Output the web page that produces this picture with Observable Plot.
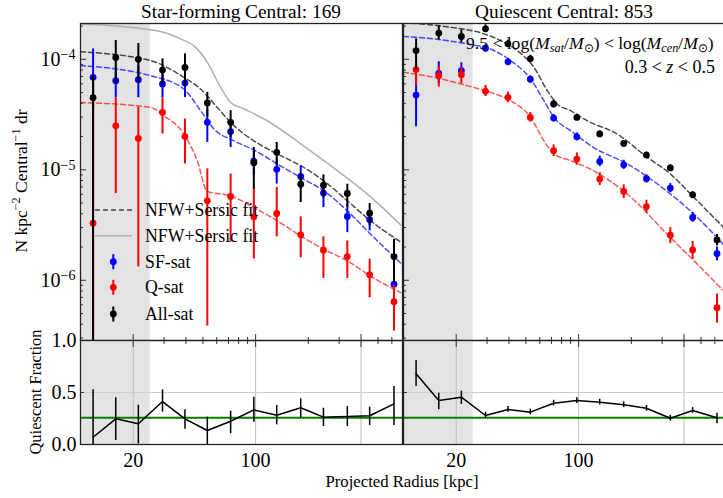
<!DOCTYPE html>
<html>
<head>
<meta charset="utf-8">
<script src="https://cdn.jsdelivr.net/npm/d3@7"></script>
<script src="https://cdn.jsdelivr.net/npm/@observablehq/plot@0.6"></script>
<style>
  html, body { margin: 0; padding: 0; background: #fff; }
  #fig { position: relative; width: 723px; height: 498px; overflow: hidden; background: #fff;
         font-family: "Liberation Serif", serif; color: #000; }
  #fig svg, #fig svg text { font-family: "Liberation Serif", serif !important; }
  .panel { position: absolute; }
  .lbl { position: absolute; white-space: nowrap; line-height: 1; }
  .lbl sub { font-size: 0.7em; line-height: 0; vertical-align: -0.25em; }
  .lbl sup { font-size: 0.7em; line-height: 0; }
</style>
</head>
<body>
<div id="fig"></div>
<script>
// ---- radial bins (kpc) and axis settings ----
const radius = [11.8, 15.9, 21.4, 29.4, 39.5, 53.0, 72.0, 97.7, 132, 181, 244, 334, 448, 617];
const innerLimit = [10, 25];            // shaded inner region
const xDomain = [10, 690];
const yDomain = [2.85e-7, 2.11e-4];
const xMajorTicks = [20, 100, 400];
const xMinorTicks = [30, 40, 50, 60, 70, 80, 90, 200, 300, 500, 600];
const yMajorTicks = [1e-6, 1e-5, 1e-4];
const yMinorTicks = [3e-7, 4e-7, 5e-7, 6e-7, 7e-7, 8e-7, 9e-7, 2e-6, 3e-6, 4e-6, 5e-6, 6e-6, 7e-6, 8e-6, 9e-6,
                     2e-5, 3e-5, 4e-5, 5e-5, 6e-5, 7e-5, 8e-5, 9e-5, 2e-4];
const fracTicks = [0, 0.5, 1];

// ---- star-forming centrals (N = 169) ----
const sfAll   = [4.5e-5, 1.04e-4, 1.0e-4, 8.0e-5, 8.45e-5, 4.03e-5, 2.69e-5, 1.16e-5, 1.44e-5, 7.4e-6, 7.26e-6, 6.1e-6, 4.05e-6, 1.64e-6];
const sfAllLo = [1e-8, 6.0e-5, 6.1e-5, 5.9e-5, 5.7e-5, 3.0e-5, 1.95e-5, 6.7e-6, 1.1e-5, 5.05e-6, 5.6e-6, 4.6e-6, 3.1e-6, 9.5e-7];
const sfAllHi = [7.1e-5, 1.48e-4, 1.39e-4, 1.01e-4, 1.12e-4, 5.02e-5, 3.43e-5, 1.59e-5, 1.77e-5, 9.2e-6, 9.0e-6, 7.4e-6, 4.95e-6, 2.35e-6];
const sfSF    = [6.87e-5, 6.41e-5, 6.55e-5, 5.98e-5, 6.1e-5, 2.69e-5, 2.22e-5, 1.2e-5, 1.01e-5, 8.7e-6, 6.15e-6, 3.78e-6, 3.53e-6, 9.2e-7];
const sfSFLo  = [3.5e-5, 4.47e-5, 4.5e-5, 4.47e-5, 4.5e-5, 1.77e-5, 1.59e-5, 9.0e-6, 7.42e-6, 6.7e-6, 4.55e-6, 2.7e-6, 2.8e-6, 6.0e-7];
const sfSFHi  = [1.24e-4, 8.5e-5, 8.7e-5, 7.5e-5, 7.6e-5, 3.5e-5, 2.8e-5, 1.5e-5, 1.25e-5, 1.087e-5, 7.5e-6, 4.9e-6, 4.05e-6, 1.3e-6];
const sfQ     = [3.29e-6, 2.5e-5, 1.92e-5, 3.3e-5, 2.0e-5, 5.24e-6, 5.73e-6, 3.75e-6, 4.02e-6, 2.58e-6, 1.87e-6, 1.64e-6, 1.12e-6, 6.4e-7];
const sfQLo   = [1e-8, 6.1e-6, 1.32e-6, 2.11e-5, 1.13e-5, 3.85e-7, 2.22e-6, 1.56e-6, 2.47e-6, 1.6e-6, 1.04e-6, 1.04e-6, 6.95e-7, 3.47e-7];
const sfQHi   = [6.0e-5, 4.47e-5, 3.7e-5, 4.47e-5, 2.88e-5, 1.02e-5, 9.14e-6, 6.9e-6, 6.92e-6, 3.75e-6, 2.47e-6, 2.27e-6, 1.55e-6, 9.0e-7];
const sfFrac   = [0.07, 0.247, 0.199, 0.413, 0.247, 0.135, 0.224, 0.333, 0.282, 0.353, 0.263, 0.269, 0.276, 0.391];
const sfFracLo = [0, 0.038, 0.006, 0.311, 0.147, 0, 0.103, 0.215, 0.189, 0.257, 0.173, 0.173, 0.183, 0.183];
const sfFracHi = [0.526, 0.449, 0.378, 0.526, 0.333, 0.263, 0.32, 0.455, 0.375, 0.439, 0.349, 0.365, 0.359, 0.558];
const sfMeanFrac = 0.257;
// NFW+Sersic fits, [radius, density]
const sfFitAll = [[10,1.17e-4],[25.1,9.73e-5],[38.9,6.87e-5],[48.5,5.39e-5],[60.4,3.67e-5],[75.2,2.51e-5],[97.8,1.83e-5],[133,1.39e-5],[181,1.09e-5],[245,7.95e-6],[334,5.24e-6],[454,3.45e-6],[674,2.22e-6]];
const sfFitSF  = [[10,8.77e-5],[25.1,7.11e-5],[38.9,5.39e-5],[48.5,3.43e-5],[57.8,2.34e-5],[75.2,1.83e-5],[97.8,1.51e-5],[133,1.13e-5],[181,8.51e-6],[245,6.45e-6],[334,4.25e-6],[454,2.61e-6],[674,1.43e-6]];
const sfFitQ   = [[10,4.07e-5],[25.1,3.67e-5],[29.9,3.09e-5],[38.9,2.11e-5],[46.4,1.21e-5],[53,6.36e-6],[72,5.81e-6],[97.8,4.55e-6],[133,3.45e-6],[181,2.52e-6],[245,1.91e-6],[334,1.5e-6],[454,1.09e-6],[674,7.72e-7]];
const sfFitTotal = [[10,2.09e-4],[25.1,1.85e-4],[29.8,1.76e-4],[37.3,1.53e-4],[44.3,1.33e-4],[53,9.4e-5],[63.1,5.57e-5],[72,4.07e-5],[85.3,3.57e-5],[116.6,2.78e-5],[181,1.72e-5],[268,1.09e-5],[454,5.69e-6],[674,3.17e-6]];

// ---- quiescent centrals (N = 853) ----
const qAll   = [1.2e-4, 1.73e-4, 1.61e-4, 1.89e-4, 1.38e-4, 1.01e-4, 3.94e-5, 2.98e-5, 2.11e-5, 1.73e-5, 1.36e-5, 1.04e-5, 5.93e-6, 2.32e-6];
const qAllLo = [8.0e-5, 1.5e-4, 1.42e-4, 1.75e-4, 1.28e-4, 9.4e-5, 3.65e-5, 2.8e-5, 1.97e-5, 1.62e-5, 1.28e-5, 9.8e-6, 5.5e-6, 2.05e-6];
const qAllHi = [1.53e-4, 2.0e-4, 1.84e-4, 2.05e-4, 1.49e-4, 1.09e-4, 4.25e-5, 3.18e-5, 2.26e-5, 1.84e-5, 1.45e-5, 1.11e-5, 6.35e-6, 2.6e-6];
const qSF    = [4.75e-5, 7.46e-5, 7.9e-5, 1.26e-4, 9.5e-5, 6.6e-5, 2.94e-5, 1.99e-5, 1.19e-5, 1.11e-5, 8.3e-6, 6.83e-6, 3.7e-6, 1.74e-6];
const qSFLo  = [2.45e-5, 6.0e-5, 6.7e-5, 1.17e-4, 8.8e-5, 6.1e-5, 2.72e-5, 1.83e-5, 1.07e-5, 1.01e-5, 7.6e-6, 6.2e-6, 3.35e-6, 1.5e-6];
const qSFHi  = [7.0e-5, 9.5e-5, 9.3e-5, 1.36e-4, 1.02e-4, 7.1e-5, 3.17e-5, 2.16e-5, 1.33e-5, 1.22e-5, 9.0e-6, 7.5e-6, 4.1e-6, 2.0e-6];
const qQ     = [8.07e-5, 7.1e-5, 7.26e-5, 5.13e-5, 4.52e-5, 2.98e-5, 1.49e-5, 1.25e-5, 8.24e-6, 6.36e-6, 4.65e-6, 2.56e-6, 1.88e-6, 5.65e-7];
const qQLo   = [5.8e-5, 5.6e-5, 6.0e-5, 4.6e-5, 4.05e-5, 2.7e-5, 1.32e-5, 1.1e-5, 7.2e-6, 5.5e-6, 4.05e-6, 2.15e-6, 1.55e-6, 4.1e-7];
const qQHi   = [9.0e-5, 8.6e-5, 8.5e-5, 5.8e-5, 5.05e-5, 3.3e-5, 1.68e-5, 1.42e-5, 9.4e-6, 7.3e-6, 5.3e-6, 3.0e-6, 2.25e-6, 7.5e-7];
const qFrac   = [0.68, 0.423, 0.455, 0.279, 0.337, 0.311, 0.397, 0.423, 0.407, 0.382, 0.349, 0.253, 0.327, 0.257];
const qFracLo = [0.558, 0.333, 0.385, 0.25, 0.31, 0.285, 0.37, 0.395, 0.38, 0.355, 0.32, 0.225, 0.3, 0.2];
const qFracHi = [0.808, 0.493, 0.513, 0.31, 0.365, 0.34, 0.425, 0.45, 0.435, 0.41, 0.375, 0.28, 0.355, 0.30];
const qMeanFrac = 0.257;
const qFitAll = [[10,2.15e-4],[18.6,1.95e-4],[28.8,1.7e-4],[35.8,1.48e-4],[44.6,1.2e-4],[55.6,8.46e-5],[66.3,5.2e-5],[75.5,3.94e-5],[90,3.43e-5],[112,2.78e-5],[166,2.11e-5],[245,1.31e-5],[335,9.14e-6],[456,5.61e-6],[674,3.0e-6]];
const qFitSF  = [[10,1.61e-4],[14.9,1.53e-4],[23.1,1.38e-4],[31.4,1.24e-4],[40.9,9.73e-5],[53.2,6.64e-5],[63.4,4.22e-5],[72.3,2.98e-5],[90,2.26e-5],[122,1.59e-5],[190,1.13e-5],[335,6.02e-6],[456,3.97e-6],[674,2.09e-6]];
const qFitQ   = [[10,7.62e-5],[14.9,6.87e-5],[23.1,5.78e-5],[31.4,5.02e-5],[40.9,4.22e-5],[53.2,2.98e-5],[63.4,1.83e-5],[72.3,1.39e-5],[90,1.21e-5],[122,9.79e-6],[190,6.02e-6],[335,2.43e-6],[456,1.5e-6],[674,8.0e-7]];

// ---- colours ----
const BLUE = "#0000ff", RED = "#ff0000", BLACK = "#000000", SHADE = "#e3e3e3";

const rows = (v, lo, hi) => radius.map((r, i) => ({r, v: v[i], lo: lo[i], hi: hi[i]}));
const blank = () => "";
const baseStyle = {background: "none", overflow: "visible", fontFamily: "'Liberation Serif', serif", fontSize: "20px", color: "#000"};

function series(data, color) {
  return [
    Plot.ruleX(data, {x: "r", y1: "lo", y2: "hi", stroke: color, strokeWidth: 2, clip: true}),
    Plot.dot(data, {x: "r", y: "v", r: 3.4, fill: color, clip: true})
  ];
}
function fitLine(pts, color, opacity) {
  return Plot.line(pts, {x: d => d[0], y: d => d[1], stroke: color, strokeOpacity: opacity,
    strokeWidth: 1.5, strokeDasharray: "5,3", curve: "monotone-x", clip: true});
}

function densityPanel({all, sf, q, fits, labels, width, marginLeft, marginRight}) {
  return Plot.plot({
    width, height: 340, marginLeft, marginRight, marginTop: 23, marginBottom: 0,
    style: baseStyle,
    x: {type: "log", domain: xDomain},
    y: {type: "log", domain: yDomain},
    marks: [
      Plot.rect([innerLimit], {x1: d => d[0], x2: d => d[1], fill: SHADE}),
      fits.total ? Plot.line(fits.total, {x: d => d[0], y: d => d[1], stroke: "#b0b0b0", strokeWidth: 1.5, curve: "monotone-x", clip: true}) : null,
      fitLine(fits.all, BLACK, 0.7),
      fitLine(fits.sf, BLUE, 0.7),
      fitLine(fits.q, RED, 0.65),
      ...series(sf, BLUE),
      ...series(q, RED),
      ...series(all, BLACK),
      Plot.axisY(yMinorTicks, {tickSize: -3, tickFormat: blank, label: null, stroke: "#333"}),
      Plot.axisY(yMajorTicks, {tickSize: -6, tickFormat: blank, label: null, stroke: "#333"}),
      labels ? Plot.axisY(yMajorTicks, {tickSize: 0, tickPadding: 5, tickFormat: d => `10^${Math.round(Math.log10(d))}`, label: null}) : null,
      Plot.axisX(xMinorTicks, {anchor: "bottom", tickSize: -3, tickFormat: blank, label: null, stroke: "#333"}),
      Plot.axisX(xMajorTicks, {anchor: "bottom", tickSize: -6, tickFormat: blank, label: null, stroke: "#333"}),
      Plot.frame({stroke: "#222", strokeWidth: 1.3})
    ]
  });
}

function fractionPanel({frac, mean, labels, width, marginLeft, marginRight}) {
  return Plot.plot({
    width, height: 158, marginLeft, marginRight, marginTop: 0, marginBottom: 54,
    style: baseStyle,
    x: {type: "log", domain: xDomain},
    y: {domain: [0, 1]},
    marks: [
      Plot.rect([innerLimit], {x1: d => d[0], x2: d => d[1], fill: SHADE}),
      Plot.gridX(xMajorTicks, {stroke: "#bdbdbd", strokeOpacity: 1, strokeWidth: 1}),
      Plot.gridY([0.5], {stroke: "#cfcfcf", strokeOpacity: 1, strokeWidth: 1}),
      Plot.ruleY([mean], {stroke: "#008000", strokeWidth: 2}),
      Plot.line(frac, {x: "r", y: "v", stroke: BLACK, strokeWidth: 1.5}),
      Plot.ruleX(frac, {x: "r", y1: "lo", y2: "hi", stroke: BLACK, strokeWidth: 1.5, clip: true}),
      Plot.axisY(fracTicks, {tickSize: -4, tickFormat: blank, label: null, stroke: "#333"}),
      labels ? Plot.axisY(fracTicks, {tickSize: 0, tickPadding: 4, tickFormat: d3.format(".1f"), label: null}) : null,
      Plot.axisX(xMinorTicks, {anchor: "top", tickSize: -3, tickFormat: blank, label: null, stroke: "#333"}),
      Plot.axisX(xMajorTicks, {anchor: "top", tickSize: -6, tickFormat: blank, label: null, stroke: "#333"}),
      Plot.axisX(xMajorTicks, {anchor: "bottom", tickSize: 0, tickPadding: 8, tickFormat: d3.format("d"), label: null}),
      Plot.frame({stroke: "#222", strokeWidth: 1.3})
    ]
  });
}

// turn "10^-4" tick labels into a base with a raised exponent
function raiseExponents(svg) {
  svg.querySelectorAll("text").forEach(t => {
    const m = /^10\^(-?\d+)$/.exec(t.textContent);
    if (!m) return;
    t.textContent = "10";
    const ts = document.createElementNS("http://www.w3.org/2000/svg", "tspan");
    ts.setAttribute("dy", "-0.45em");
    ts.setAttribute("font-size", "0.7em");
    ts.textContent = m[1].replace("-", "\u2212");
    t.appendChild(ts);
  });
}

const fig = document.getElementById("fig");
function place(node, left, top, width) {
  const d = document.createElement("div");
  d.className = "panel";
  d.style.left = left + "px";
  d.style.top = top + "px";
  d.style.width = width + "px";
  d.appendChild(node);
  fig.appendChild(d);
}

const topLeft = densityPanel({
  all: rows(sfAll, sfAllLo, sfAllHi), sf: rows(sfSF, sfSFLo, sfSFHi), q: rows(sfQ, sfQLo, sfQHi),
  fits: {all: sfFitAll, sf: sfFitSF, q: sfFitQ, total: sfFitTotal},
  labels: true, width: 410, marginLeft: 80, marginRight: 8
});
raiseExponents(topLeft);
place(topLeft, 0, 0, 410);

const topRight = densityPanel({
  all: rows(qAll, qAllLo, qAllHi), sf: rows(qSF, qSFLo, qSFHi), q: rows(qQ, qQLo, qQHi),
  fits: {all: qFitAll, sf: qFitSF, q: qFitQ, total: null},
  labels: false, width: 340, marginLeft: 10, marginRight: 8
});
place(topRight, 393, 0, 340);

place(fractionPanel({frac: rows(sfFrac, sfFracLo, sfFracHi), mean: sfMeanFrac, labels: true,
  width: 410, marginLeft: 80, marginRight: 8}), 0, 340, 410);
place(fractionPanel({frac: rows(qFrac, qFracLo, qFracHi), mean: qMeanFrac, labels: false,
  width: 340, marginLeft: 10, marginRight: 8}), 393, 340, 340);

// ---- legend ----
const legendEntries = [
  {kind: "dash", label: "NFW+Sersic fit", y: 210},
  {kind: "solid", label: "NFW+Sersic fit", y: 235.7},
  {kind: "point", color: BLUE, label: "SF-sat", y: 261.7},
  {kind: "point", color: RED, label: "Q-sat", y: 287.3},
  {kind: "point", color: BLACK, label: "All-sat", y: 314}
];
const NS = "http://www.w3.org/2000/svg";
const leg = document.createElementNS(NS, "svg");
leg.setAttribute("width", 723); leg.setAttribute("height", 498);
leg.style.position = "absolute"; leg.style.left = "0"; leg.style.top = "0";
function el(name, attrs) {
  const e = document.createElementNS(NS, name);
  for (const k in attrs) e.setAttribute(k, attrs[k]);
  leg.appendChild(e);
  return e;
}
legendEntries.forEach(d => {
  if (d.kind === "dash") el("line", {x1: 95, x2: 132, y1: d.y, y2: d.y, stroke: "#000", "stroke-opacity": 0.7, "stroke-width": 1.5, "stroke-dasharray": "5,3"});
  else if (d.kind === "solid") el("line", {x1: 95, x2: 132, y1: d.y, y2: d.y, stroke: "#b0b0b0", "stroke-width": 1.5});
  else {
    el("line", {x1: 113.3, x2: 113.3, y1: d.y - 7.5, y2: d.y + 7.5, stroke: d.color, "stroke-width": 2});
    el("circle", {cx: 113.3, cy: d.y, r: 3.4, fill: d.color});
  }
  const t = el("text", {x: 145, y: d.y + 6, "font-size": 17.8, fill: "#000"});
  t.textContent = d.label;
});
fig.appendChild(leg);

// ---- titles and axis labels ----
function label(html, x, y, size, transform) {
  const d = document.createElement("div");
  d.className = "lbl";
  d.style.left = x + "px";
  d.style.top = y + "px";
  d.style.fontSize = size + "px";
  d.style.transform = transform;
  d.innerHTML = html;
  fig.appendChild(d);
}
label("Star-forming Central: 169", 241, 12, 19.3, "translate(-50%,-50%)");
label("Quiescent Central: 853", 564, 12, 19.3, "translate(-50%,-50%)");
label("9.5 &lt; log(<i>M</i><sub><i>sat</i></sub>/<i>M</i><sub>⊙</sub>) &lt; log(<i>M</i><sub><i>cen</i></sub>/<i>M</i><sub>⊙</sub>)", 466, 44, 17.6, "translate(0,-50%)");
label("0.3 &lt; <i>z</i> &lt; 0.5", 715, 67, 18, "translate(-100%,-50%)");
label("N kpc<sup>−2</sup> Central<sup>−1</sup> dr", 22, 181, 17.5, "translate(-50%,-50%) rotate(-90deg)");
label("Quiescent Fraction", 36, 392, 16.5, "translate(-50%,-50%) rotate(-90deg)");
label("Projected Radius [kpc]", 402, 482, 16.7, "translate(-50%,-50%)");
</script>
</body>
</html>
